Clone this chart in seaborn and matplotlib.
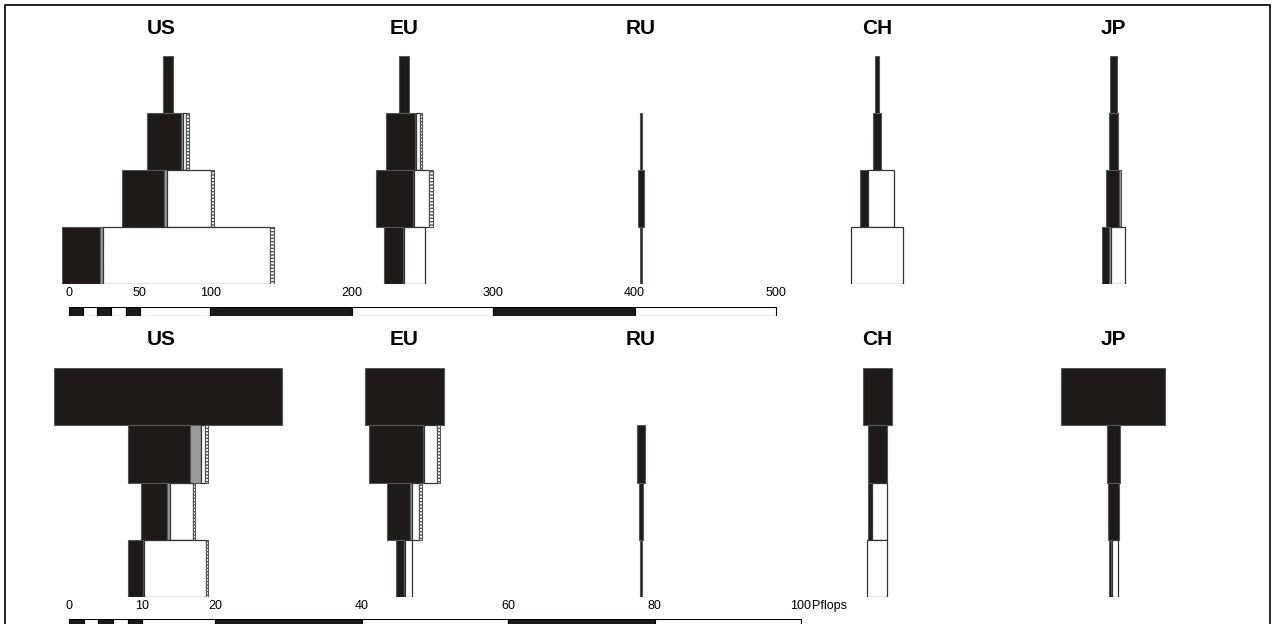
import matplotlib
matplotlib.use("Agg")
import matplotlib.pyplot as plt
import seaborn as sns
from matplotlib.patches import Rectangle

# ---------------- data ----------------
regions = ["US", "EU", "RU", "CH", "JP"]

# upper panel (scale 0-500), one list of 4 levels (top to bottom) per region
top_black = [[7.5, 24.0, 29.7, 27.1], [7.1, 20.0, 25.9, 13.7], [0, 1.4, 4.2, 0],
             [2.6, 5.4, 5.2, 0], [4.5, 6.2, 9.6, 5.4]]
top_gray = [[0, 1.9, 1.9, 2.3], [0, 1.2, 1.2, 0.9], [0, 0, 0, 0],
            [0, 0, 0, 0], [0, 0, 1.0, 1.0]]
top_white = [[0, 1.9, 31.3, 117.9], [0, 2.3, 10.1, 14.9], [0, 0, 0, 0],
             [0, 0, 18.9, 37.0], [0, 0, 0, 10.1]]
top_hatch = [[0, 2.3, 2.1, 3.0], [0, 1.9, 3.1, 0], [0, 0, 0, 0],
             [0, 0, 0, 0], [0, 0, 0, 0]]
top_red = [[0, 0, 0, 0], [0, 0, 0, 0], [0, 0, 0, 1.4],
           [0, 0, 0, 0], [0, 0, 0, 0]]

# lower panel (Pflops, scale 0-100)
bot_black = [[31.1, 8.5, 3.6, 2.05], [10.8, 7.3, 3.1, 1.04], [0, 1.05, 0.46, 0.23],
             [3.96, 2.6, 0.63, 0], [14.2, 1.73, 1.46, 0.33]]
bot_gray = [[0, 1.5, 0.37, 0.19], [0, 0.18, 0.37, 0.19], [0, 0, 0, 0],
            [0, 0, 0, 0], [0, 0, 0, 0.14]]
bot_white = [[0, 0.45, 3.2, 8.5], [0, 1.8, 0.96, 0.96], [0, 0, 0, 0],
             [0, 0, 1.97, 2.8], [0, 0, 0, 0.77]]
bot_hatch = [[0, 0.45, 0.27, 0.31], [0, 0.37, 0.37, 0], [0, 0, 0, 0],
             [0, 0, 0, 0], [0, 0, 0, 0]]
bot_red = [[0, 0, 0, 0]] * 5

top_ticks = [0, 50, 100, 200, 300, 400, 500]
bot_ticks = [0, 10, 20, 40, 60, 80, 100]
top_scale_edges = [0, 10, 20, 30, 40, 50, 100, 200, 300, 400, 500]
bot_scale_edges = [0, 2, 4, 6, 8, 10, 20, 40, 60, 80, 100]
unit_label = "Pflops"

# ---------------- style ----------------
sns.set_theme(style="white")
plt.rcParams["font.family"] = ["Liberation Sans", "DejaVu Sans"]
plt.rcParams["text.color"] = "black"
plt.rcParams["xtick.color"] = "black"
plt.rcParams["xtick.labelcolor"] = "black"

W, H = 1273, 624
fig = plt.figure(figsize=(W / 100, H / 100), dpi=100)
fig.patch.set_facecolor("white")

centers_frac = [168.0 / W, 404.4 / W, 641.0 / W, 877.2 / W, 1113.4 / W]
title_frac = [161.0 / W, 404.4 / W, 641.0 / W, 877.2 / W, 1113.4 / W]

BLACK = "#1f1a17"
styles = [
    dict(facecolor=BLACK, edgecolor="#555555", linewidth=0.8),
    dict(facecolor="#9a9a9a", edgecolor="#555555", linewidth=0.8),
    dict(facecolor="white", edgecolor="#333333", linewidth=0.9),
    dict(facecolor="white", edgecolor="#555555", linewidth=0.8, hatch="-----"),
    dict(facecolor="#6e1414", edgecolor="#444444", linewidth=0.6),
]


def px_axes(top_px, bottom_px):
    return fig.add_axes([0, 1 - bottom_px / H, 1, (bottom_px - top_px) / H])


def setup_x(ax, scale):
    # scale: pixels per data unit, zero placed at x = 69 px
    ax.set_xlim(-69.0 / scale, (W - 69.0) / scale)
    ax.set_facecolor("none")
    for s in ax.spines.values():
        s.set_visible(False)


def draw_row(ax, series):
    x0, x1 = ax.get_xlim()
    for r in range(len(regions)):
        c = x0 + centers_frac[r] * (x1 - x0)
        for lv in range(4):
            widths = [s[r][lv] for s in series]
            left = c - sum(widths) / 2.0
            for w, st in zip(widths, styles):
                if w > 0:
                    ax.barh(lv, w, left=left, height=1.0, **st)
                left += w
    ax.set_ylim(3.5, -0.5)
    ax.set_yticks([])


def draw_scale(ax, edges):
    widths = [b - a for a, b in zip(edges[:-1], edges[1:])]
    colors = [BLACK if i % 2 == 0 else "white" for i in range(len(widths))]
    ax.barh([0.5] * len(widths), widths, left=edges[:-1], height=1.0,
            color=colors, edgecolor="black", linewidth=0.8)
    ax.set_ylim(0, 1)
    ax.set_yticks([])
    ax.set_xticks([])


tick_font = dict(family=["Liberation Sans Narrow", "Liberation Sans", "DejaVu Sans"], size=9)

rows = [
    dict(top=56, bottom=284, scale=1.414, series=[top_black, top_gray, top_white, top_hatch, top_red],
         ticks=top_ticks, edges=top_scale_edges, bar=(307, 316), title_y=28),
    dict(top=368, bottom=597, scale=7.32, series=[bot_black, bot_gray, bot_white, bot_hatch, bot_red],
         ticks=bot_ticks, edges=bot_scale_edges, bar=(619, 628), title_y=340),
]

for i, row in enumerate(rows):
    ax = px_axes(row["top"], row["bottom"])
    setup_x(ax, row["scale"])
    draw_row(ax, row["series"])
    ax.set_xticks(row["ticks"])
    ax.set_xticklabels([str(t) for t in row["ticks"]], fontdict=tick_font, color="black")
    ax.tick_params(axis="x", length=0, pad=2)
    if i == 1:
        ax.annotate(unit_label, xy=(row["ticks"][-1], 0), xycoords=("data", "axes fraction"),
                    xytext=(8, -2), textcoords="offset points", ha="left", va="top",
                    fontsize=9, family=tick_font["family"], color="black")

    sax = px_axes(*row["bar"])
    setup_x(sax, row["scale"])
    draw_scale(sax, row["edges"])

    for r, name in enumerate(regions):
        fig.text(title_frac[r], 1 - row["title_y"] / H, name, ha="center", va="center",
                 fontsize=15, fontweight="bold", color="black",
                 family=["Liberation Sans", "DejaVu Sans"])

# outer frame
fig.add_artist(Rectangle((5.0 / W, -0.05), (1270.0 - 5.0) / W, 1.05 - 5.0 / H,
                         transform=fig.transFigure, fill=False, edgecolor="black", linewidth=1.2))

fig.savefig("out.png", dpi=100, facecolor="white")
